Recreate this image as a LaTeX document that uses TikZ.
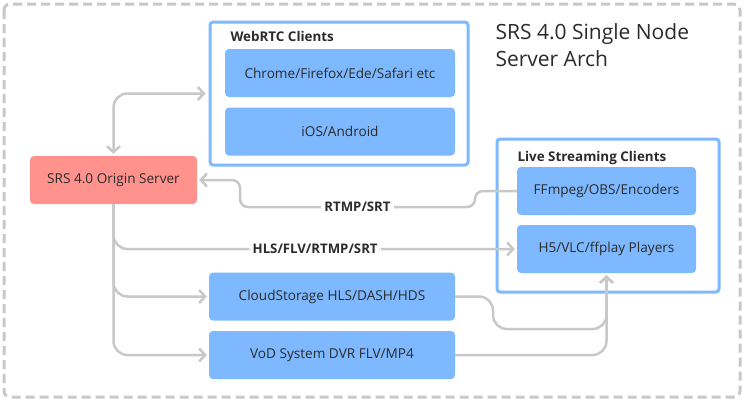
\documentclass[tikz,border=0pt]{standalone}
\usepackage{fontspec}
\setmainfont{Open Sans}
\usetikzlibrary{arrows.meta}
\definecolor{boxblue}{HTML}{7EB8FF}
\definecolor{originred}{HTML}{FF928C}
\definecolor{wiregray}{HTML}{C8C8C8}
\definecolor{ink}{HTML}{2B2B2B}
\begin{document}
\begin{tikzpicture}[x=1pt,y=-1pt,
    client/.style={fill=boxblue,rounded corners=4pt,text=ink,
      font=\fontsize{13.6}{16}\selectfont,minimum height=48pt},
    group/.style={draw=boxblue,line width=3pt,rounded corners=3pt,fill=white},
    grouptitle/.style={anchor=west,text=ink,font=\fontsize{13.4}{16}\selectfont\bfseries},
    wire/.style={draw=wiregray,line width=2.5pt,rounded corners=14pt},
    tip/.style={-{Straight Barb[length=6pt,width=13pt]},shorten >=2pt},
    proto/.style={fill=white,text=ink,font=\fontsize{13.2}{16}\selectfont\bfseries}]
  \useasboundingbox (0,0) rectangle (744,400);
  \draw[wiregray,line width=3pt,dash pattern=on 9pt off 5pt,rounded corners=6pt]
    (4,4) rectangle (740,397);
  % title
  \node[anchor=north west,align=left,text=ink,font=\fontsize{21}{26.5}\selectfont]
    (title) at (492,20.5) {SRS 4.0 Single Node\\Server Arch};
  % groups
  \node[group,minimum width=258pt,minimum height=143pt] (webrtc) at (339,93.5) {};
  \node[group,minimum width=222pt,minimum height=153pt] (live) at (608,215.5) {};
  \node[grouptitle] (webrtctitle) at (227,36) {WebRTC Clients};
  \node[grouptitle] (livetitle) at (514,158) {Live Streaming Clients};
  % boxes
  \node[client,minimum width=230pt] (chrome) at (340,73) {Chrome/Firefox/Ede/Safari etc};
  \node[client,minimum width=230pt] (ios) at (340,131.5) {iOS/Android};
  \node[client,minimum width=179pt] (ffmpeg) at (606.5,191) {FFmpeg/OBS/Encoders};
  \node[client,minimum width=179pt] (h5) at (606.5,249) {H5/VLC/ffplay Players};
  \node[client,minimum width=246pt] (cloud) at (332,296.5) {CloudStorage HLS/DASH/HDS};
  \node[client,minimum width=246pt] (vod) at (332,355) {VoD System DVR FLV/MP4};
  \node[client,fill=originred,minimum width=167pt] (origin) at (113.5,180) {SRS 4.0 Origin Server};
  % connectors
  \begin{scope}[wire]
    \draw[{Straight Barb[length=6pt,width=13pt]}-{Straight Barb[length=6pt,width=13pt]},
      shorten <=2pt,shorten >=3pt] (origin.north) |- (webrtc.west);
    \draw[tip,rounded corners=8pt] (ffmpeg.west) -| (475,207)
      -- node[proto]{RTMP/SRT} (240,207) |- (origin.east);
    \draw[tip] (origin.south) |- node[proto,pos=0.75]{HLS/FLV/RTMP/SRT} (h5.west);
    \draw[tip] (origin.south) |- (cloud.west);
    \draw[tip] (origin.south) |- (vod.west);
    \draw[tip] (cloud.east) -| (493,329) -| (h5.south);
    \draw[tip] (vod.east) -| (h5.south);
  \end{scope}
\end{tikzpicture}
\end{document}
